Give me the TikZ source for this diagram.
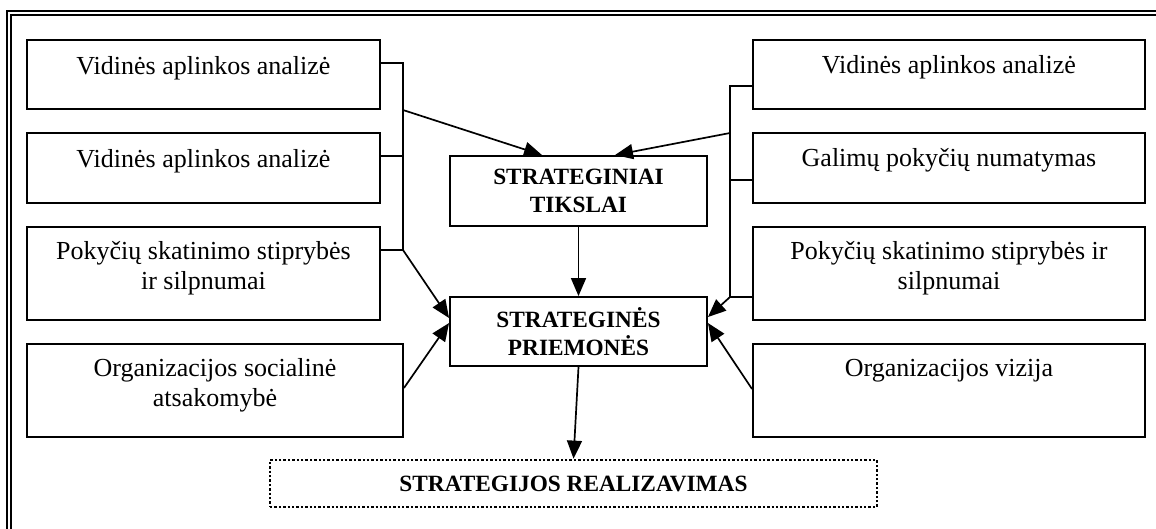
\documentclass[tikz,border=0pt]{standalone}
\usepackage{fontspec}
\setmainfont{Liberation Serif}
\usetikzlibrary{arrows.meta,calc}

% two-line centred text whose baseline is that of the first line
\newcommand\twolines[2]{\begin{tabular}[t]{@{}c@{}}#1\\#2\end{tabular}}

\tikzset{
  box/.style={draw, line width=1.9pt, inner sep=0pt},
  txt/.style={inner sep=0pt, anchor=base, font=\fontsize{26}{30}\selectfont},
  bold/.style={font=\fontsize{23.3}{28}\selectfont\bfseries, align=center},
  link/.style={line width=1.7pt},
  arr/.style={line width=1.7pt, -{Triangle[length=18pt,width=15pt]}},
}

\begin{document}
\begin{tikzpicture}[x=1pt,y=-1pt]
\useasboundingbox (0,0) rectangle (1156,528);
\clip (0,0) rectangle (1156,528);

% double frame, only its top and left sides fall on the page
\draw[line width=1.6pt] (7,600) -- (7,11) -- (1200,11);
\draw[line width=1.6pt] (11,600) -- (11,15) -- (1200,15);

% left column
\node[box, minimum width=353pt, minimum height=69pt] (l1) at (203.5,74.5) {};
\node[box, minimum width=353pt, minimum height=70pt] (l2) at (203.5,168) {};
\node[box, minimum width=353pt, minimum height=93pt] (l3) at (203.5,273.5) {};
\node[box, minimum width=376pt, minimum height=93pt] (l4) at (215,390.5) {};

% right column
\node[box, minimum width=392pt, minimum height=69pt] (r1) at (949,74.5) {};
\node[box, minimum width=392pt, minimum height=70pt] (r2) at (949,168) {};
\node[box, minimum width=392pt, minimum height=93pt] (r3) at (949,273.5) {};
\node[box, minimum width=392pt, minimum height=93pt] (r4) at (949,390.5) {};

% texts of the side boxes
\node[txt] (l1t) at ([yshift=-35pt]l1.north) {Vidinės aplinkos analizė};
\node[txt] (l2t) at ([yshift=-35pt]l2.north) {Vidinės aplinkos analizė};
\node[txt] (l3t) at ([yshift=-33pt]l3.north) {\twolines{Pokyčių skatinimo stiprybės}{ir silpnumai}};
\node[txt] (l4t) at ([yshift=-33pt]l4.north) {\twolines{Organizacijos socialinė}{atsakomybė}};
\node[txt] (r1t) at ([yshift=-34pt]r1.north) {Vidinės aplinkos analizė};
\node[txt] (r2t) at ([yshift=-34pt]r2.north) {Galimų pokyčių numatymas};
\node[txt] (r3t) at ([yshift=-33pt]r3.north) {\twolines{Pokyčių skatinimo stiprybės ir}{silpnumai}};
\node[txt] (r4t) at ([yshift=-33pt]r4.north) {Organizacijos vizija};

% central chain
\node[box, bold, minimum width=257pt, minimum height=70pt] (tik) at (578.5,191) {STRATEGINIAI\\TIKSLAI};
\node[box, bold, minimum width=257pt, minimum height=69pt] (pri) at (578.5,331.5) {STRATEGINĖS\\PRIEMONĖS};
\node[draw, bold, line width=2.8pt, dash pattern=on 2.4pt off 2pt,
      minimum width=607pt, minimum height=47pt, inner sep=0pt] (real) at (573.5,483.5)
      {STRATEGIJOS REALIZAVIMAS};

% collecting lines
\coordinate (bl1) at (403,63);
\coordinate (bl2) at (403,156);
\coordinate (bl3) at (403,250);
\coordinate (blm) at (403,110);
\coordinate (br1) at (730,86);
\coordinate (br2) at (730,180);
\coordinate (br3) at (730,297);
\coordinate (brm) at (730,133);

\draw[link] (l1.east |- bl1) -- (bl1) -- (bl3) -- (l3.east |- bl3);
\draw[link] (l2.east |- bl2) -- (bl2);
\draw[link] (r1.west |- br1) -- (br1) -- (br3) -- (r3.west |- br3);
\draw[link] (r2.west |- br2) -- (br2);

% arrows
\draw[arr] (blm) -- ([xshift=-36.5pt]tik.north);
\draw[arr] (brm) -- ([xshift=36.5pt]tik.north);
\draw[arr] (tik.south) -- (pri.north);
\draw[arr] (bl3) -- ([yshift=13.5pt]pri.west);
\draw[arr] (br3) -- ([yshift=14.5pt]pri.east);
\draw[arr] ([yshift=2.5pt]l4.east) -- ([yshift=8.5pt]pri.west);
\draw[arr] ([yshift=1.5pt]r4.west) -- ([yshift=8.5pt]pri.east);
\draw[arr] (pri.south) -- (real.north);
\end{tikzpicture}
\end{document}
